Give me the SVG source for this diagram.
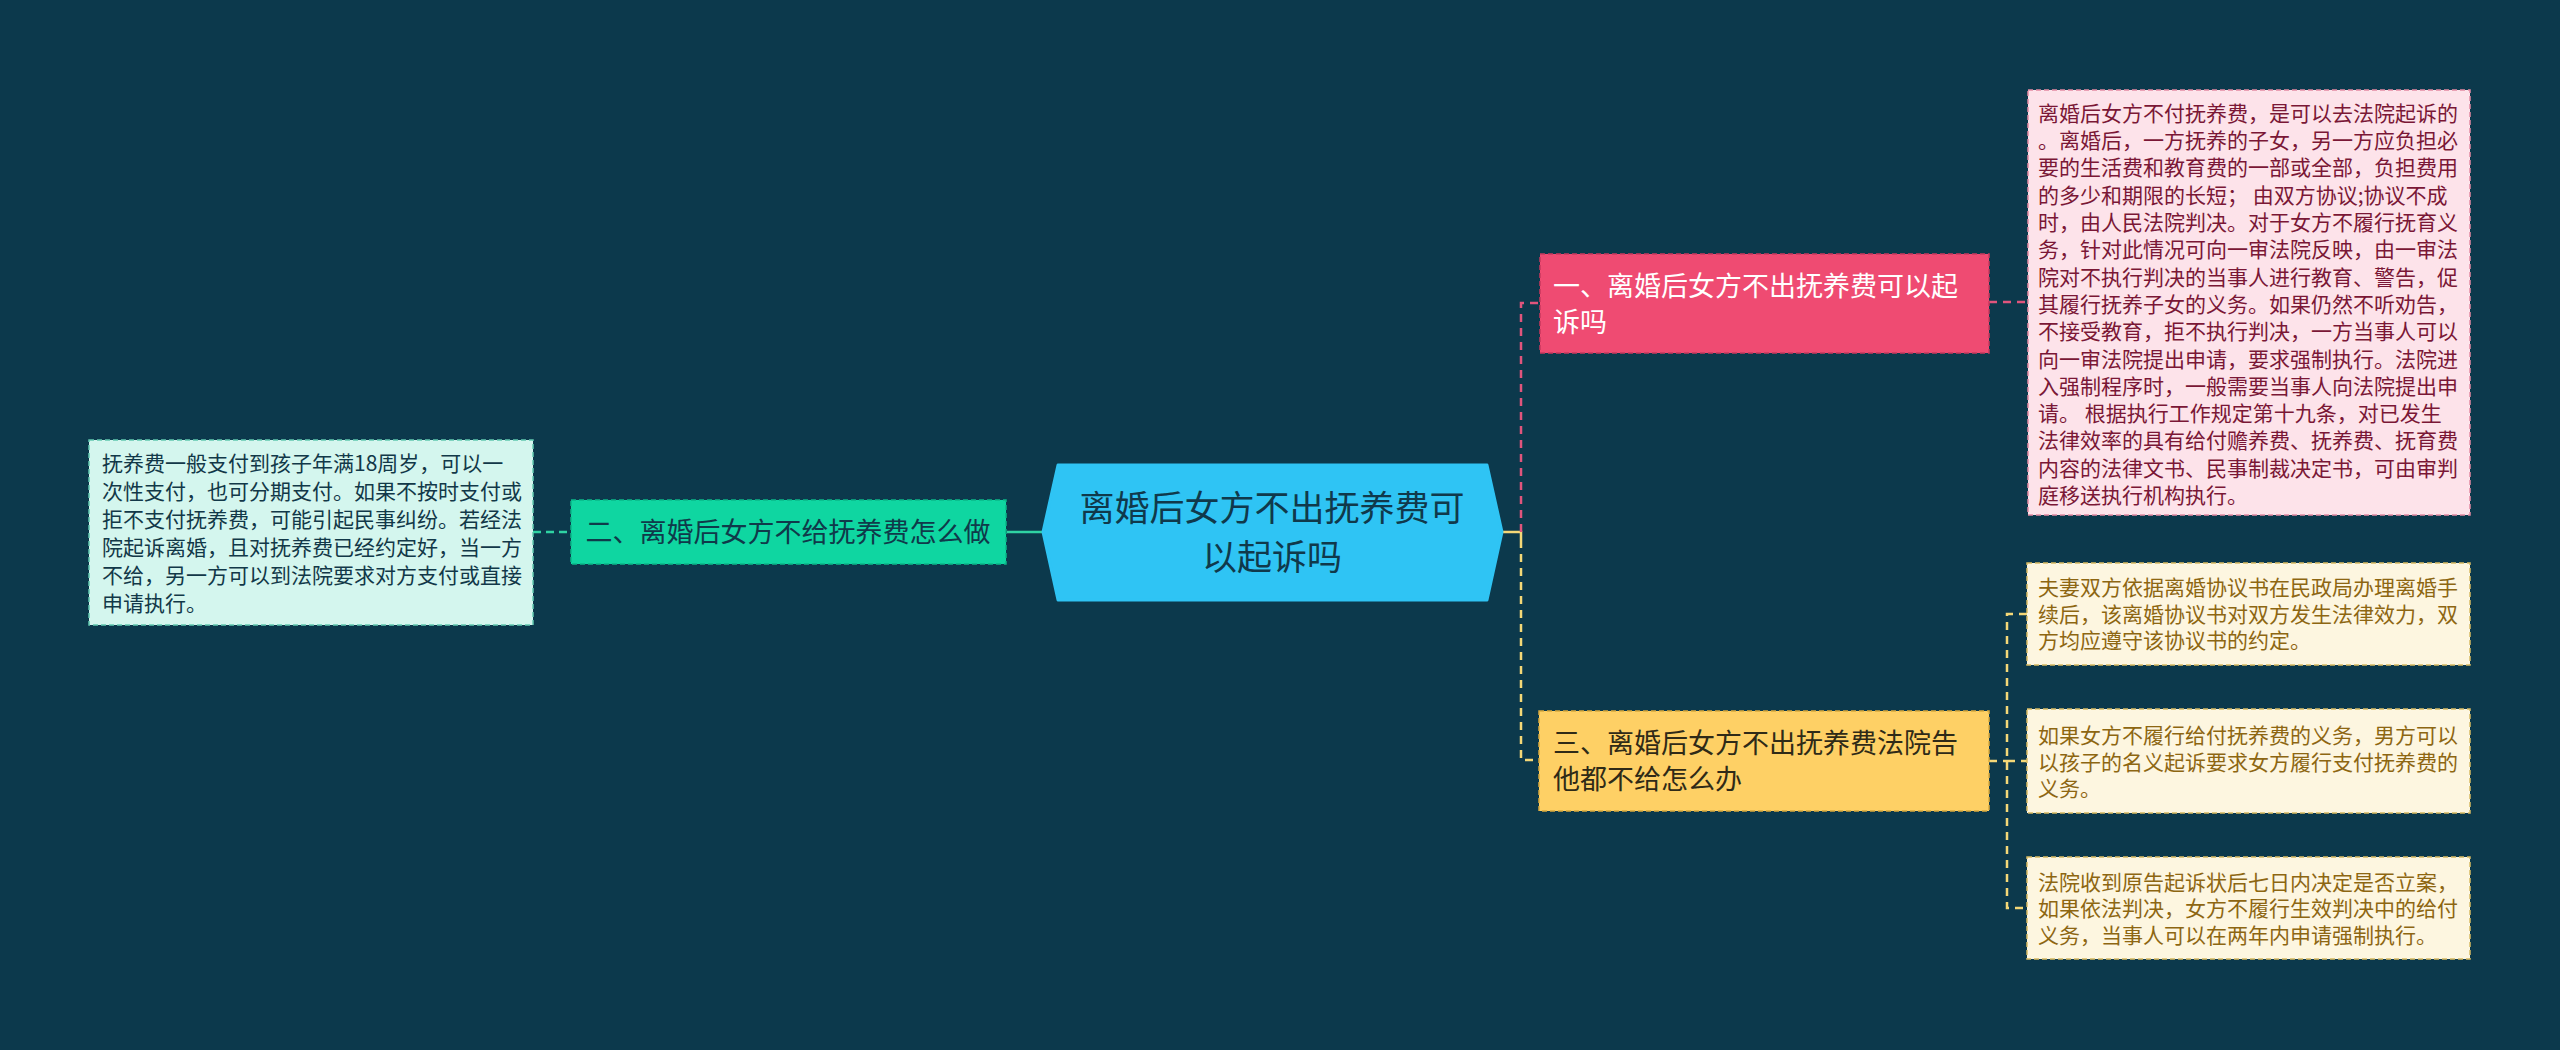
<svg xmlns="http://www.w3.org/2000/svg" width="2560" height="1050" viewBox="0 0 2560 1050">
<style>
text{font-family:"Noto Sans CJK SC","Noto Sans",sans-serif;white-space:pre}
.leaf{font-size:21px}
.lbl{font-size:27px}
.dash{stroke-dasharray:5 3;stroke-width:1.5}
.conn{fill:none;stroke-width:2.5}
</style>
<rect width="2560" height="1050" fill="#0c394c"/>
<g id="connectors">
  <line class="conn" x1="1007" y1="532" x2="1043" y2="532" stroke="#2fd3a3"/>
  <line class="conn" x1="533" y1="532" x2="570" y2="532" stroke="#2fd3a3" stroke-dasharray="8 5"/>
  <polyline class="conn" points="1502,532 1521,532 1521,540" stroke="#f4d877"/>
  <polyline class="conn" points="1521,532 1521,303 1540,303" stroke="#e0557c" stroke-dasharray="8 6"/>
  <polyline class="conn" points="1521,540 1521,760 1539,760" stroke="#f4d877" stroke-dasharray="8 6"/>
  <line class="conn" x1="1989" y1="302" x2="2028" y2="302" stroke="#e0557c" stroke-dasharray="8 6"/>
  <line class="conn" x1="1989" y1="761" x2="2007" y2="761" stroke="#f4d877" stroke-dasharray="8 6"/>
  <polyline class="conn" points="2027,614 2007,614 2007,908 2027,908" stroke="#f4d877" stroke-dasharray="8 6"/>
  <line class="conn" x1="2007" y1="761" x2="2027" y2="761" stroke="#f4d877" stroke-dasharray="8 6"/>
</g>
<g id="center">
  <polygon points="1043,532 1058,465 1487,465 1502,532 1487,600 1058,600" fill="#2fc4f4" stroke="#2fc4f4" stroke-width="3" stroke-linejoin="round"/>
  <text x="1272" y="521" font-size="35" fill="#10394b" text-anchor="middle">离婚后女方不出抚养费可</text>
  <text x="1272" y="570" font-size="35" fill="#10394b" text-anchor="middle">以起诉吗</text>
</g>
<g id="branch2">
  <rect x="571" y="500" width="435" height="64" fill="#0fd6a1" stroke="#0ab888" class="dash"/>
  <text class="lbl" x="788" y="542" fill="#0f3a4a" text-anchor="middle">二、离婚后女方不给抚养费怎么做</text>
</g>
<g id="leaf2">
  <rect x="89" y="440" width="444" height="185" fill="#d4f6ee" stroke="#62c9b0" class="dash"/>
  <g class="leaf" fill="#123848">
    <text x="102" y="471">抚养费一般支付到孩子年满18周岁，可以一</text>
    <text x="102" y="499">次性支付，也可分期支付。如果不按时支付或</text>
    <text x="102" y="527">拒不支付抚养费，可能引起民事纠纷。若经法</text>
    <text x="102" y="555">院起诉离婚，且对抚养费已经约定好，当一方</text>
    <text x="102" y="583">不给，另一方可以到法院要求对方支付或直接</text>
    <text x="102" y="611">申请执行。</text>
  </g>
</g>
<g id="branch1">
  <rect x="1540" y="254" width="449" height="99" fill="#ef4b72" stroke="#c9385d" class="dash"/>
  <text class="lbl" x="1553" y="296" fill="#ffffff">一、离婚后女方不出抚养费可以起</text>
  <text class="lbl" x="1553" y="332" fill="#ffffff">诉吗</text>
</g>
<g id="leaf1">
  <rect x="2028" y="90" width="442" height="425" fill="#fde3ea" stroke="#e48aa3" class="dash"/>
  <g class="leaf" fill="#7a1736">
    <text x="2038" y="121">离婚后女方不付抚养费，是可以去法院起诉的</text>
    <text x="2038" y="148">。离婚后，一方抚养的子女，另一方应负担必</text>
    <text x="2038" y="175">要的生活费和教育费的一部或全部，负担费用</text>
    <text x="2038" y="203">的多少和期限的长短； 由双方协议;协议不成</text>
    <text x="2038" y="230">时，由人民法院判决。对于女方不履行抚育义</text>
    <text x="2038" y="257">务，针对此情况可向一审法院反映，由一审法</text>
    <text x="2038" y="285">院对不执行判决的当事人进行教育、警告，促</text>
    <text x="2038" y="312">其履行抚养子女的义务。如果仍然不听劝告，</text>
    <text x="2038" y="339">不接受教育，拒不执行判决，一方当事人可以</text>
    <text x="2038" y="367">向一审法院提出申请，要求强制执行。法院进</text>
    <text x="2038" y="394">入强制程序时，一般需要当事人向法院提出申</text>
    <text x="2038" y="421">请。 根据执行工作规定第十九条，对已发生</text>
    <text x="2038" y="448">法律效率的具有给付赡养费、抚养费、抚育费</text>
    <text x="2038" y="476">内容的法律文书、民事制裁决定书，可由审判</text>
    <text x="2038" y="503">庭移送执行机构执行。</text>
  </g>
</g>
<g id="branch3">
  <rect x="1539" y="711" width="450" height="100" fill="#fed065" stroke="#d9a93c" class="dash"/>
  <text class="lbl" x="1553" y="753" fill="#2f2a17">三、离婚后女方不出抚养费法院告</text>
  <text class="lbl" x="1553" y="789" fill="#2f2a17">他都不给怎么办</text>
</g>
<g id="leaf3a">
  <rect x="2027" y="563" width="443" height="102" fill="#fdf6e0" stroke="#d8bb62" class="dash"/>
  <g class="leaf" fill="#8d6612">
    <text x="2038" y="595">夫妻双方依据离婚协议书在民政局办理离婚手</text>
    <text x="2038" y="622">续后，该离婚协议书对双方发生法律效力，双</text>
    <text x="2038" y="648">方均应遵守该协议书的约定。</text>
  </g>
</g>
<g id="leaf3b">
  <rect x="2027" y="709" width="443" height="104" fill="#fdf6e0" stroke="#d8bb62" class="dash"/>
  <g class="leaf" fill="#8d6612">
    <text x="2038" y="743">如果女方不履行给付抚养费的义务，男方可以</text>
    <text x="2038" y="770">以孩子的名义起诉要求女方履行支付抚养费的</text>
    <text x="2038" y="796">义务。</text>
  </g>
</g>
<g id="leaf3c">
  <rect x="2027" y="857" width="443" height="102" fill="#fdf6e0" stroke="#d8bb62" class="dash"/>
  <g class="leaf" fill="#8d6612">
    <text x="2038" y="890">法院收到原告起诉状后七日内决定是否立案，</text>
    <text x="2038" y="916">如果依法判决，女方不履行生效判决中的给付</text>
    <text x="2038" y="943">义务，当事人可以在两年内申请强制执行。</text>
  </g>
</g>
</svg>
